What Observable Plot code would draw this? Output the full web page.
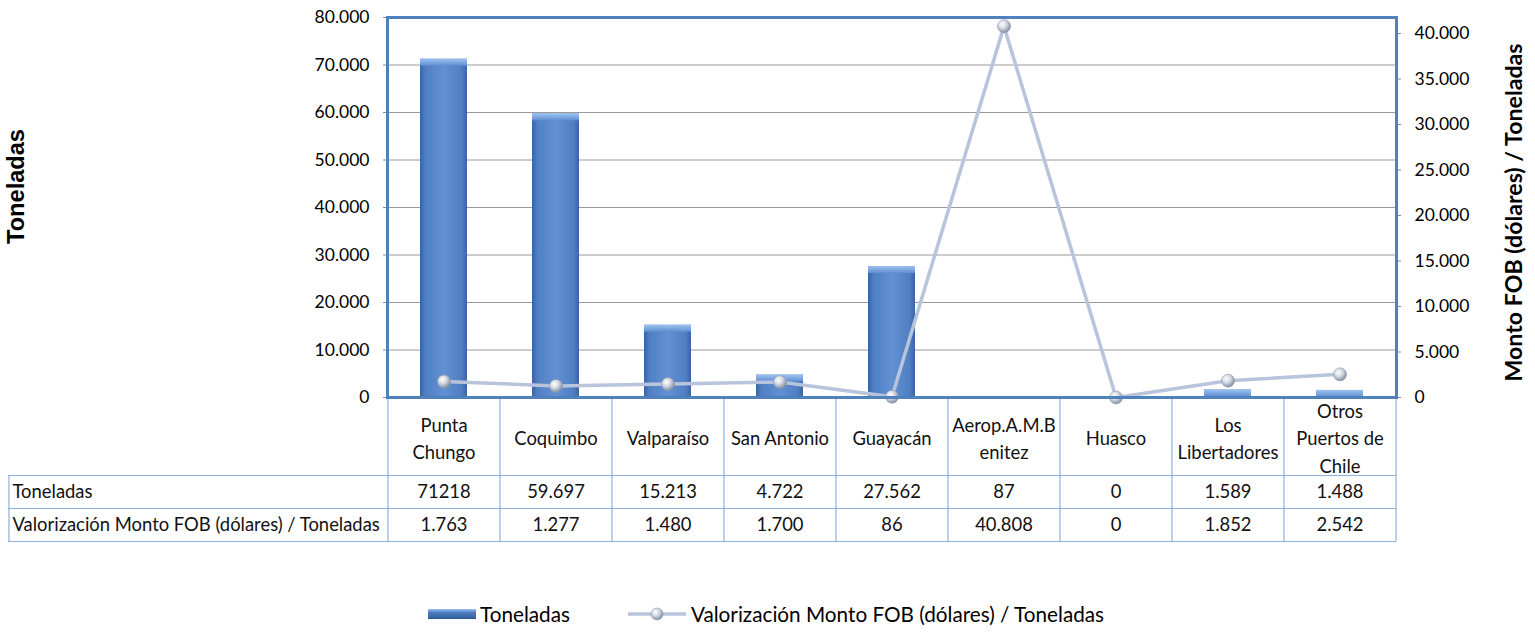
<!DOCTYPE html>
<html>
<head>
<meta charset="utf-8">
<script src="https://cdn.jsdelivr.net/npm/d3@7"></script>
<script src="https://cdn.jsdelivr.net/npm/@observablehq/plot@0.6"></script>
<style>
  html, body { margin: 0; padding: 0; background: #fff; }
  #wrap { position: relative; width: 1535px; height: 634px; }
  #legend { position: absolute; top: 602px; left: 428px; display: flex; align-items: center; font-family: Lato, sans-serif; color: #000; }
  #legend .item { display: flex; align-items: center; }
</style>
</head>
<body>
<div id="wrap">
  <div id="chart"></div>
  <div id="legend"></div>
</div>
<script>
// ---------------- data ----------------
const categories = ["Punta Chungo", "Coquimbo", "Valparaíso", "San Antonio", "Guayacán", "Aerop.A.M.Benitez", "Huasco", "Los Libertadores", "Otros Puertos de Chile"];
const categoryLabels = ["Punta\nChungo", "Coquimbo", "Valparaíso", "San Antonio", "Guayacán", "Aerop.A.M.B\nenitez", "Huasco", "Los\nLibertadores", "Otros\nPuertos de\nChile"];
const toneladas = [71218, 59697, 15213, 4722, 27562, 87, 0, 1589, 1488];
const valorizacion = [1763, 1277, 1480, 1700, 86, 40808, 0, 1852, 2542];
const leftTicks = [0, 10000, 20000, 30000, 40000, 50000, 60000, 70000, 80000];
const rightTicks = [0, 5000, 10000, 15000, 20000, 25000, 30000, 35000, 40000];
const seriesNames = ["Toneladas", "Valorización Monto FOB (dólares) / Toneladas"];
const leftTitle = "Toneladas";
const rightTitle = "Monto FOB (dólares) / Toneladas";

// ---------------- layout ----------------
const W = 1535, H = 560;
const mL = 387, mR = 139, mT = 17, mB = 163;
const leftMax = 80000, rightMax = 41760;
const k = leftMax / rightMax;
const frameH = H - mT - mB;
const step = (W - mL - mR) / categories.length;

const loc = d3.formatLocale({decimal: ",", thousands: ".", grouping: [3], currency: ["$", ""]});
const fmt = loc.format(",d");

// font calibration
const ctx = document.createElement("canvas").getContext("2d");
function fit(text, font, target) {
  ctx.font = font.replace("SIZE", "100px");
  return 100 * target / ctx.measureText(text).width;
}
const FONT = "Lato";
const tickSize = fit("80.000", "SIZE Lato", 55);
const tableSize = fit("Valorización Monto FOB (dólares) / Toneladas", "SIZE Lato", 368);
const legendSize = fit("Valorización Monto FOB (dólares) / Toneladas", "SIZE Lato", 414);
const leftTitleSize = fit(leftTitle, "bold SIZE 'Liberation Sans'", 115);
const rightTitleSize = fit(rightTitle, "bold SIZE Lato", 339);

const data = categories.map((c, i) => ({cat: c, label: categoryLabels[i], ton: toneladas[i], fob: valorizacion[i],
  tonText: i === 0 ? String(toneladas[i]) : fmt(toneladas[i]), fobText: fmt(valorizacion[i])}));

const tableBlue = "#8EB0DC";
const frameBlue = "#4F81BD";
const rowY1 = 78, rowY2 = 111, rowY3 = 144; // table row lines below frame bottom

const plot = Plot.plot({
  width: W, height: H,
  marginLeft: mL, marginRight: mR, marginTop: mT, marginBottom: mB,
  style: {fontFamily: FONT, color: "#000", background: "#fff", overflow: "visible"},
  x: {domain: categories, paddingInner: 0.58, paddingOuter: 0.29, axis: null},
  y: {domain: [0, leftMax], axis: null},
  marks: [
    // gridlines
    Plot.ruleY(leftTicks.slice(1, -1), {stroke: "#9A9A9A", strokeWidth: 1}),
    // left axis
    Plot.axisY({ticks: leftTicks, tickFormat: fmt, label: null, tickSize: 4, tickPadding: 14, fontSize: tickSize, stroke: "#8C8C8C"}),
    // right axis
    Plot.axisY({anchor: "right", ticks: rightTicks.map(v => v * k), label: null, tickFormat: v => fmt(Math.round(v / k / 100) * 100), tickSize: 4, tickPadding: 14, fontSize: tickSize, stroke: "#8C8C8C"}),
    // bars
    Plot.barY(data, {x: "cat", y: "ton", fill: "url(#barGrad)"}),
    Plot.barY(data.filter(d => d.ton > 500), {x: "cat", y1: "ton", y2: "ton", insetBottom: -7, fill: "url(#bevelGrad)"}),
    // line + markers
    Plot.line(data, {x: "cat", y: d => d.fob * k, stroke: "#B7C4DC", strokeWidth: 3.5}),
    Plot.dot(data, {x: "cat", y: d => d.fob * k, r: 6.5, fill: "url(#ballGrad)", stroke: "#8D98AC", strokeWidth: 0.6}),
    // table vertical rules
    Plot.ruleX(categories, {x: d => d, dx: -step / 2, insetTop: frameH, insetBottom: -rowY3, stroke: tableBlue, strokeWidth: 1.2}),
    Plot.ruleX([categories[categories.length - 1]], {x: d => d, dx: step / 2, insetTop: frameH, insetBottom: -rowY3, stroke: tableBlue, strokeWidth: 1.2}),
    Plot.ruleX([categories[0]], {x: d => d, dx: -step / 2 - (mL - 8), insetTop: frameH + rowY1, insetBottom: -rowY3, stroke: tableBlue, strokeWidth: 1.2}),
    // table horizontal rules
    Plot.ruleY([0], {dy: rowY1, insetLeft: -(mL - 8), stroke: tableBlue, strokeWidth: 1.2}),
    Plot.ruleY([0], {dy: rowY2, insetLeft: -(mL - 8), stroke: tableBlue, strokeWidth: 1.2}),
    Plot.ruleY([0], {dy: rowY3, insetLeft: -(mL - 8), stroke: tableBlue, strokeWidth: 1.2}),
    // table text
    Plot.text(data, {x: "cat", text: "label", frameAnchor: "bottom", lineAnchor: "middle", dy: 39, lineHeight: 1.5, fontSize: tableSize, fill: "#111"}),
    Plot.text(data, {x: "cat", text: "tonText", frameAnchor: "bottom", lineAnchor: "middle", dy: 95, fontSize: tableSize, fill: "#111"}),
    Plot.text(data, {x: "cat", text: "fobText", frameAnchor: "bottom", lineAnchor: "middle", dy: 128, fontSize: tableSize, fill: "#111"}),
    Plot.text([seriesNames[0]], {frameAnchor: "bottom-left", lineAnchor: "middle", dx: -(mL - 12), dy: 95, textAnchor: "start", fontSize: tableSize, fill: "#111"}),
    Plot.text([seriesNames[1]], {frameAnchor: "bottom-left", lineAnchor: "middle", dx: -(mL - 12), dy: 128, textAnchor: "start", fontSize: tableSize, fill: "#111"}),
    // axis titles
    Plot.text([leftTitle], {frameAnchor: "left", textAnchor: "middle", lineAnchor: "middle", dx: -(mL - 16), dy: 186 - (mT + frameH / 2), rotate: -90, fontSize: leftTitleSize, fontWeight: "bold", fontFamily: "Liberation Sans", fill: "#000"}),
    Plot.text([rightTitle], {frameAnchor: "right", textAnchor: "middle", lineAnchor: "middle", dx: 1514 - (W - mR), dy: 212 - (mT + frameH / 2), rotate: -90, fontSize: rightTitleSize, fontWeight: "bold", fill: "#000"}),
    // frame
    Plot.frame({stroke: frameBlue, strokeWidth: 3})
  ]
});

// gradients
const defs = d3.select(plot).insert("defs", ":first-child");
const bg = defs.append("linearGradient").attr("id", "barGrad").attr("x1", "0").attr("x2", "1").attr("y1", "0").attr("y2", "0");
[[0, "#3A64A0"], [0.12, "#5080C3"], [0.5, "#6191D3"], [0.88, "#5080C3"], [1, "#3A64A0"]].forEach(([o, c]) => bg.append("stop").attr("offset", o).attr("stop-color", c));
const bv = defs.append("linearGradient").attr("id", "bevelGrad").attr("x1", "0").attr("x2", "0").attr("y1", "0").attr("y2", "1");
[[0, "#9EC3F2"], [1, "#5E8ED0"]].forEach(([o, c]) => bv.append("stop").attr("offset", o).attr("stop-color", c));
const rg = defs.append("radialGradient").attr("id", "ballGrad").attr("cx", "0.38").attr("cy", "0.35").attr("r", "0.7");
[[0, "#FFFFFF"], [0.45, "#D3D8E2"], [1, "#7C879B"]].forEach(([o, c]) => rg.append("stop").attr("offset", o).attr("stop-color", c));

document.getElementById("chart").appendChild(plot);

// legend
const legend = d3.select("#legend").style("font-size", legendSize + "px");
const i1 = legend.append("div").attr("class", "item");
const s1 = i1.append("svg").attr("width", 50).attr("height", 14);
const lg = s1.append("defs").append("linearGradient").attr("id", "legGrad").attr("x1", 0).attr("x2", 0).attr("y1", 0).attr("y2", 1);
[[0, "#9CC2F0"], [0.35, "#4F7FC2"], [1, "#2F5A96"]].forEach(([o, c]) => lg.append("stop").attr("offset", o).attr("stop-color", c));
s1.append("rect").attr("x", 0).attr("y", 2).attr("width", 48).attr("height", 10).attr("fill", "url(#legGrad)");
i1.append("span").text(seriesNames[0]).style("margin-left", "2px");
const i2 = legend.append("div").attr("class", "item").style("margin-left", "58px");
const s2 = i2.append("svg").attr("width", 60).attr("height", 16);
const lr = s2.append("defs").append("radialGradient").attr("id", "legBall").attr("cx", "0.38").attr("cy", "0.35").attr("r", "0.7");
[[0, "#FFFFFF"], [0.45, "#D3D8E2"], [1, "#7C879B"]].forEach(([o, c]) => lr.append("stop").attr("offset", o).attr("stop-color", c));
s2.append("line").attr("x1", 0).attr("x2", 58).attr("y1", 8).attr("y2", 8).attr("stroke", "#B7C4DC").attr("stroke-width", 3.5);
s2.append("circle").attr("cx", 29).attr("cy", 8).attr("r", 6).attr("fill", "url(#legBall)").attr("stroke", "#8D98AC").attr("stroke-width", 0.6);
i2.append("span").text(seriesNames[1]).style("margin-left", "3px");
</script>
</body>
</html>
